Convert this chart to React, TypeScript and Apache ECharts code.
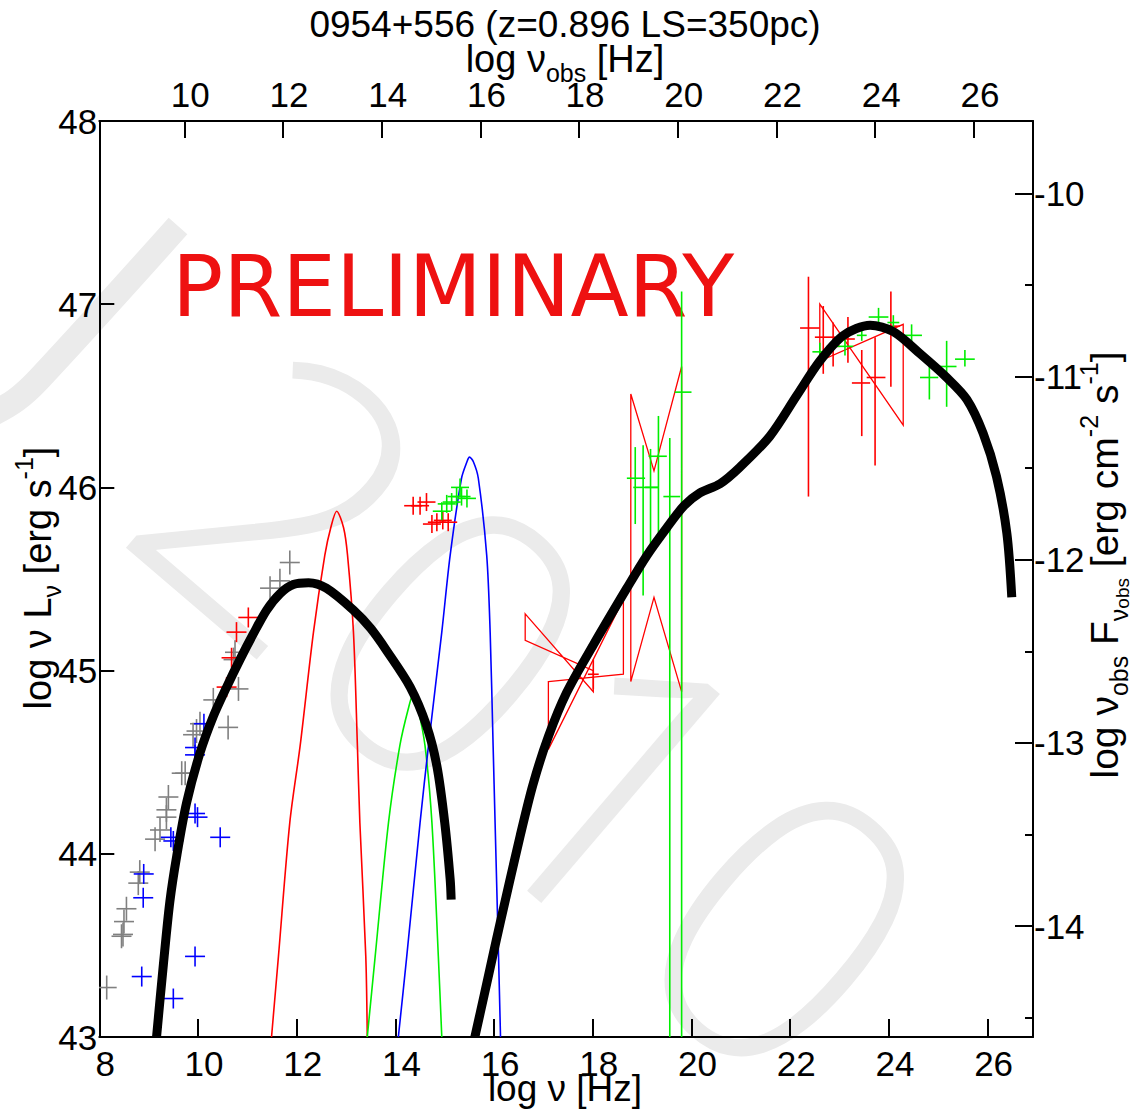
import React, { useEffect, useRef } from 'react';
import * as echarts from 'echarts';

const FONT = '"Liberation Sans", Arial, sans-serif';
const Z_SHIFT = 0.278; // log10(1+z), rest -> observed frequency
const FLUX_SHIFT = 57.605; // log nuL - log nuF
const X_MIN = 8;
const X_MAX = 26.92;
const Y_MIN = 43;
const Y_MAX = 48;

// model components [log nu, log nuLnu]
const torusCurve: number[][] = [
  [11.49, 43.0], [11.63, 43.44], [11.86, 44.17], [12.07, 44.59], [12.34, 45.21], [12.57, 45.63],
  [12.69, 45.78], [12.81, 45.87], [12.95, 45.78], [13.03, 45.63], [13.15, 45.21], [13.23, 44.59],
  [13.28, 44.17], [13.4, 43.44], [13.43, 43.0],
];
const greenCurve: number[][] = [
  [13.43, 43.0], [13.59, 43.44], [13.86, 44.17], [14.09, 44.59], [14.26, 44.79], [14.36, 44.87],
  [14.46, 44.79], [14.6, 44.59], [14.74, 44.17], [14.87, 43.44], [14.94, 43.0],
];
const diskCurve: number[][] = [
  [14.06, 43.0], [14.23, 43.44], [14.5, 44.17], [14.67, 44.59], [14.94, 45.21], [15.11, 45.63],
  [15.34, 46.05], [15.45, 46.14], [15.5, 46.165], [15.58, 46.14], [15.68, 46.05], [15.85, 45.63],
  [15.92, 45.21], [15.98, 44.59], [16.02, 44.17], [16.09, 43.44], [16.13, 43.0],
];
const synchrotronCurve: number[][] = [
  [9.16, 43.0], [9.3, 43.4], [9.43, 43.74], [9.57, 43.99], [9.77, 44.28], [10.04, 44.55], [10.31, 44.75],
  [10.58, 44.91], [10.85, 45.06], [11.12, 45.2], [11.39, 45.33], [11.66, 45.42], [11.93, 45.47],
  [12.24, 45.48], [12.6, 45.45], [13.15, 45.33], [13.5, 45.23], [13.82, 45.11], [14.3, 44.91], [14.63, 44.7],
  [14.84, 44.48], [15.0, 44.17], [15.11, 43.86], [15.13, 43.75],
];
const comptonCurve: number[][] = [
  [15.61, 43.0], [15.8, 43.23], [15.98, 43.45], [16.12, 43.62], [16.53, 44.1], [16.79, 44.38],
  [17.1, 44.64], [17.47, 44.88], [18.01, 45.14], [18.69, 45.45], [19.1, 45.63], [19.5, 45.78],
  [19.85, 45.9], [20.17, 45.97], [20.58, 46.02], [20.98, 46.11], [21.59, 46.28], [22.13, 46.5],
  [22.6, 46.69], [23.08, 46.83], [23.62, 46.885], [24.09, 46.85], [24.63, 46.73], [25.17, 46.6],
  [25.58, 46.48], [25.91, 46.295], [26.18, 46.06], [26.39, 45.75], [26.49, 45.4],
];

// data points [log nu, log nuLnu]
const radioGrey: number[][] = [
  [8.15, 43.27], [8.45, 43.55], [8.48, 43.56], [8.5, 43.63], [8.55, 43.7], [8.79, 43.84], [8.82, 43.9],
  [9.13, 44.08], [9.23, 44.13], [9.36, 44.2], [9.36, 44.24], [9.4, 44.31], [9.67, 44.44], [9.74, 44.44],
  [9.9, 44.65], [9.97, 44.67], [10.04, 44.71], [10.31, 44.84], [10.61, 44.69], [10.82, 44.9],
  [10.72, 45.06], [10.75, 45.1], [11.46, 45.45], [11.66, 45.49], [11.86, 45.59],
];
const radioBlue: number[][] = [
  [8.86, 43.33], [8.89, 43.76], [8.9, 43.89], [9.45, 44.09], [9.5, 44.07], [9.5, 43.21], [9.94, 44.22],
  [9.99, 44.2], [9.94, 43.44], [10.45, 44.09], [9.94, 44.58], [9.94, 44.54], [10.12, 44.71],
];
const irRed: number[][] = [[10.58, 44.91], [10.68, 45.07], [10.78, 45.21], [11.02, 45.29]];
const uvRed: number[][] = [
  [14.36, 45.9], [14.5, 45.9], [14.63, 45.92], [14.74, 45.8], [14.84, 45.81], [14.96, 45.82], [15.07, 45.81],
];
const uvGreen: number[][] = [
  [14.94, 45.87], [15.04, 45.91], [15.14, 45.92], [15.24, 45.95], [15.34, 45.95], [15.45, 45.94], [15.31, 46.0],
];

// error-bar points [x, y, xLow, xHigh, yLow, yHigh]
const xrayRed: number[][] = [[18.01, 44.98, 17.9, 18.12, 44.9, 45.06]];
const xrayGreen: number[][] = [
  [18.86, 46.05, 18.69, 19.06, 45.8, 46.22],
  [19.02, 46.0, 18.82, 19.33, 45.41, 46.23],
  [19.17, 46.0, 19.06, 19.33, 45.65, 46.21],
  [19.33, 46.17, 19.13, 19.5, 45.69, 46.39],
  [19.56, 45.95, 19.43, 19.77, 42.5, 46.27],
  [19.8, 46.52, 19.66, 20.0, 42.5, 47.07],
];
const gammaRed: number[][] = [
  [22.37, 46.87, 22.2, 22.6, 45.95, 47.15],
  [22.67, 46.82, 22.5, 22.91, 46.62, 46.99],
  [22.87, 46.77, 22.74, 23.01, 46.66, 46.9],
  [23.17, 46.81, 23.04, 23.31, 46.68, 46.93],
  [23.45, 46.57, 23.25, 23.62, 46.28, 46.75],
  [23.72, 46.6, 23.55, 23.93, 46.12, 46.82],
  [24.04, 46.88, 23.89, 24.22, 46.55, 47.07],
];
const gammaGreen: number[][] = [
  [22.6, 46.74, 22.45, 22.72, 46.7, 46.79],
  [23.11, 46.77, 22.94, 23.28, 46.72, 46.81],
  [23.45, 46.83, 23.35, 23.55, 46.8, 46.86],
  [23.79, 46.93, 23.59, 23.99, 46.88, 46.98],
  [24.09, 46.9, 23.97, 24.21, 46.86, 46.94],
  [24.46, 46.83, 24.26, 24.67, 46.77, 46.89],
  [24.82, 46.6, 24.63, 25.0, 46.48, 46.71],
  [25.17, 46.66, 25.0, 25.37, 46.44, 46.8],
  [25.54, 46.7, 25.34, 25.74, 46.66, 46.75],
];

// butterflies (polygon vertices in data units)
const bowties: number[][][] = [
  [[16.63, 45.31], [18.01, 44.885], [18.01, 45.0], [16.63, 45.165]],
  [[17.1, 44.94], [18.62, 44.98], [18.62, 45.39], [17.1, 44.57]],
  [[18.77, 46.51], [19.24, 46.09], [19.8, 46.66], [19.8, 44.885], [19.24, 45.4], [18.77, 44.94]],
  [[22.6, 47.0], [24.29, 46.34], [24.29, 46.89], [22.6, 46.69]],
];

const lineSeries = (data: number[][], color: string, width: number, z: number) => ({
  type: 'line',
  data,
  xAxisIndex: 0,
  yAxisIndex: 0,
  showSymbol: false,
  symbol: 'none',
  smooth: 0.3,
  silent: true,
  z,
  lineStyle: { color, width, cap: 'butt', join: 'round' },
});

const plusSeries = (data: number[][], color: string, hw: number, hh: number) => ({
  type: 'custom',
  data,
  xAxisIndex: 0,
  yAxisIndex: 0,
  silent: true,
  clip: true,
  z: 3,
  encode: { x: 0, y: 1 },
  renderItem: (_p: any, api: any) => {
    const c = api.coord([api.value(0), api.value(1)]);
    const st = { stroke: color, lineWidth: 1.6 };
    return {
      type: 'group',
      children: [
        { type: 'line', shape: { x1: c[0] - hw, y1: c[1], x2: c[0] + hw, y2: c[1] }, style: st },
        { type: 'line', shape: { x1: c[0], y1: c[1] - hh, x2: c[0], y2: c[1] + hh }, style: st },
      ],
    };
  },
});

const errorSeries = (data: number[][], color: string) => ({
  type: 'custom',
  data,
  xAxisIndex: 0,
  yAxisIndex: 0,
  silent: true,
  clip: true,
  z: 3,
  encode: { x: 0, y: 1 },
  renderItem: (_p: any, api: any) => {
    const x = api.value(0);
    const y = api.value(1);
    const a = api.coord([api.value(2), y]);
    const b = api.coord([api.value(3), y]);
    const c = api.coord([x, api.value(4)]);
    const d = api.coord([x, api.value(5)]);
    const st = { stroke: color, lineWidth: 1.6 };
    return {
      type: 'group',
      children: [
        { type: 'line', shape: { x1: a[0], y1: a[1], x2: b[0], y2: b[1] }, style: st },
        { type: 'line', shape: { x1: c[0], y1: c[1], x2: d[0], y2: d[1] }, style: st },
      ],
    };
  },
});

const bowtieSeries = {
  type: 'custom',
  data: bowties.map((b) => [b[0][0], b[0][1]]),
  xAxisIndex: 0,
  yAxisIndex: 0,
  silent: true,
  clip: true,
  z: 3,
  encode: { x: 0, y: 1 },
  renderItem: (p: any, api: any) => {
    const pts = bowties[p.dataIndex].map((v) => api.coord(v));
    return {
      type: 'polygon',
      shape: { points: pts },
      style: { fill: 'none', stroke: '#ff0000', lineWidth: 1.3 },
    };
  },
};

const tickLabel = { fontFamily: FONT, fontSize: 35, color: '#000', lineHeight: 35 };
const axisLine = { show: true, onZero: false, lineStyle: { color: '#000', width: 2 } };

const richStyles = {
  sub: { fontFamily: FONT, fontSize: 25, verticalAlign: 'bottom', padding: [28, 0, 0, 0] },
  sub2: { fontFamily: FONT, fontSize: 19, verticalAlign: 'bottom', padding: [36, 0, 0, 0] },
  sup: { fontFamily: FONT, fontSize: 25, verticalAlign: 'top', padding: [0, 0, 28, 0] },
};

const textEl = (text: string, x: number, y: number, rotation = 0, size = 38) => ({
  type: 'text',
  x,
  y,
  rotation,
  z: 10,
  silent: true,
  style: {
    text,
    fontFamily: FONT,
    fontSize: size,
    fill: '#000',
    align: 'center',
    verticalAlign: 'middle',
    rich: richStyles,
  },
});

export default function App() {
  const ref = useRef<HTMLDivElement>(null);
  useEffect(() => {
    if (!ref.current) return;
    const chart = echarts.init(ref.current, undefined, { renderer: 'svg' });
    chart.setOption({
      animation: false,
      backgroundColor: '#ffffff',
      grid: { left: 99.3, right: 99, top: 121, bottom: 74, containLabel: false },
      xAxis: [
        {
          type: 'value', position: 'bottom', min: X_MIN, max: X_MAX, interval: 2,
          axisLine, splitLine: { show: false },
          axisTick: { show: true, inside: true, length: 18, lineStyle: { color: '#000', width: 2 } },
          axisLabel: { ...tickLabel, margin: 9, showMaxLabel: false, padding: [0, 0, 0, 12] },
        },
        {
          type: 'value', position: 'top', min: X_MIN + Z_SHIFT, max: X_MAX + Z_SHIFT, splitNumber: 9,
          axisLine, splitLine: { show: false },
          axisTick: { show: true, inside: true, length: 17, lineStyle: { color: '#000', width: 2 } },
          axisLabel: { ...tickLabel, margin: 9, showMinLabel: false, showMaxLabel: false, padding: [0, 0, 0, 12] },
        },
      ],
      yAxis: [
        {
          type: 'value', position: 'left', min: Y_MIN, max: Y_MAX, interval: 1,
          axisLine, splitLine: { show: false },
          axisTick: { show: true, inside: true, length: 15, lineStyle: { color: '#000', width: 2 } },
          axisLabel: { ...tickLabel, margin: 2 },
        },
        {
          type: 'value', position: 'right', min: Y_MIN - FLUX_SHIFT, max: Y_MAX - FLUX_SHIFT, splitNumber: 5,
          axisLine, splitLine: { show: false },
          axisTick: { show: true, inside: true, length: 18, lineStyle: { color: '#000', width: 2 } },
          axisLabel: { ...tickLabel, margin: 1, showMinLabel: false, showMaxLabel: false },
        },
        {
          type: 'value', position: 'right', min: Y_MIN - FLUX_SHIFT, max: Y_MAX - FLUX_SHIFT, splitNumber: 10,
          axisLine: { show: false }, splitLine: { show: false },
          axisTick: { show: true, inside: true, length: 8, lineStyle: { color: '#000', width: 2 } },
          axisLabel: { show: false },
        },
      ],
      graphic: [
        {
          type: 'polyline', z: -10, silent: true,
          shape: { points: [[178, 226], [40, 378], [16, 400], [-12, 416]], smooth: 0.4 },
          style: { stroke: '#ebebeb', lineWidth: 25, fill: 'none' },
        },
        {
          type: 'text', x: 541, y: 706, rotation: -0.707, z: -10, silent: true,
          style: {
            text: '2010', fontFamily: '"Open Sans", sans-serif', fontSize: 385, fontWeight: 300,
            fill: '#ebebeb', align: 'center', verticalAlign: 'middle',
          },
        },
        {
          type: 'text', x: 172, y: 286, z: 1, silent: true,
          style: {
            text: 'PRELIMINARY', fontFamily: '"DejaVu Sans", sans-serif', fontSize: 85,
            fill: '#ee1111', align: 'left', verticalAlign: 'middle',
          },
        },
        textEl('0954+556 (z=0.896 LS=350pc)', 565, 24, 0, 37),
        textEl('log ν{sub|obs} [Hz]', 565, 59),
        textEl('log ν [Hz]', 565, 1088, 0, 37),
        textEl('log ν L{sub|ν} [erg s{sup|-1}]', 38, 578, Math.PI / 2),
        textEl('log ν{sub|obs} F{sub|ν}{sub2|obs} [erg cm{sup|-2} s{sup|-1}]', 1104, 565, Math.PI / 2, 39),
      ],
      series: [
        lineSeries(torusCurve, '#ff0000', 1.6, 2),
        lineSeries(greenCurve, '#00ee00', 1.6, 2),
        lineSeries(diskCurve, '#0000ff', 1.6, 2),
        plusSeries(radioGrey, '#808080', 10, 12),
        plusSeries(radioBlue, '#0000ff', 10, 10),
        plusSeries(irRed, '#ff0000', 10, 10),
        plusSeries(uvRed, '#ff0000', 9, 9),
        plusSeries(uvGreen, '#00ee00', 9, 9),
        bowtieSeries,
        errorSeries(xrayRed, '#ff0000'),
        errorSeries(xrayGreen, '#00ee00'),
        errorSeries(gammaRed, '#ff0000'),
        errorSeries(gammaGreen, '#00ee00'),
        lineSeries(synchrotronCurve, '#000000', 9, 5),
        lineSeries(comptonCurve, '#000000', 9, 5),
      ],
    });
    return () => chart.dispose();
  }, []);
  return (
    <div
      ref={ref}
      style={{ position: 'absolute', left: 0, top: 0, width: 1132, height: 1111, background: '#fff' }}
    />
  );
}
